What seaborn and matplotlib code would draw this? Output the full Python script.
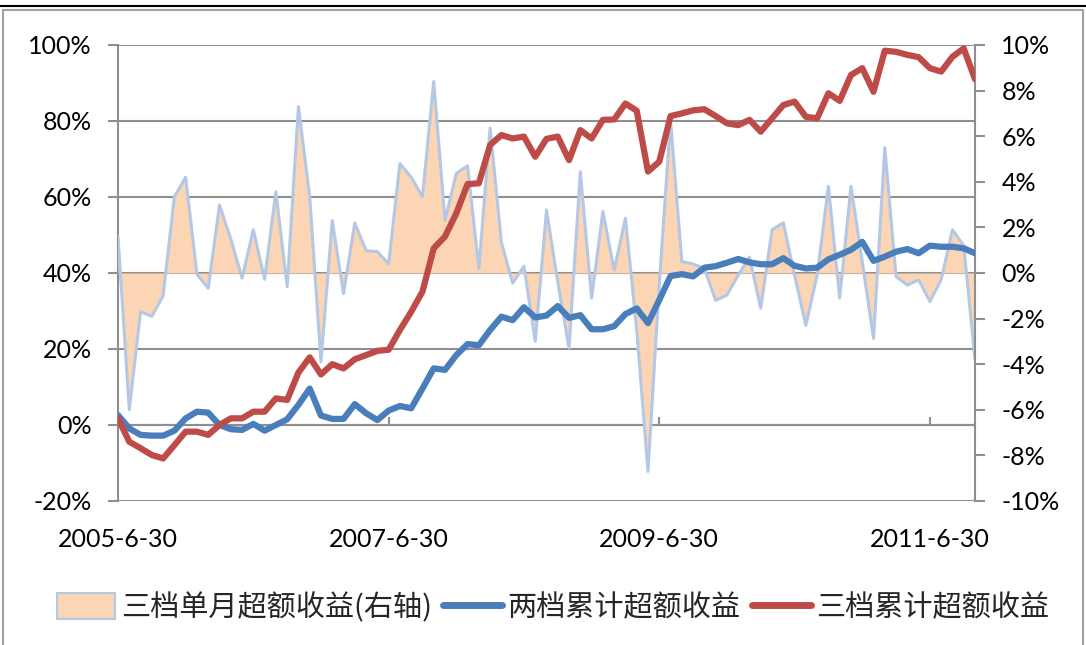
import numpy as np
import matplotlib.pyplot as plt
import seaborn as sns
from matplotlib.lines import Line2D
from matplotlib.patches import Patch, Rectangle
from matplotlib.ticker import FuncFormatter

# monthly points, 2005-6-30 .. 2011-10-31
x_labels = ['2005-6-30', '2007-6-30', '2009-6-30', '2011-6-30']
x_label_pos = [0, 24, 48, 72]

# 三档单月超额收益 (right axis, %)
monthly_excess_3 = [
    1.6, -6.0, -1.7, -1.9, -1.0, 3.35, 4.2, -0.05, -0.67, 2.98,
    1.5, -0.23, 1.9, -0.28, 3.57, -0.6, 7.3, 3.35, -3.9, 2.3,
    -0.9, 2.2, 0.98, 0.94, 0.4, 4.8, 4.2, 3.35, 8.4, 2.3,
    4.37, 4.7, 0.2, 6.35, 1.35, -0.45, 0.3, -3.0, 2.76, -0.4,
    -3.3, 4.45, -1.1, 2.7, 0.13, 2.4, -2.5, -8.7, -0.5, 6.7,
    0.5, 0.4, 0.2, -1.2, -0.97, -0.1, 0.7, -1.55, 1.9, 2.2,
    -0.1, -2.3, -0.1, 3.8, -1.1, 3.8, 0.5, -2.87, 5.5, -0.16,
    -0.53, -0.3, -1.25, -0.3, 1.9, 1.2, -3.8,
]

# 两档累计超额收益 (left axis, %)
cum_excess_2 = [
    2.6, -0.9, -2.6, -2.8, -2.8, -1.5, 1.75, 3.5, 3.25, 0.0,
    -1.1, -1.3, 0.3, -1.5, 0.0, 1.5, 5.3, 9.6, 2.5, 1.6,
    1.6, 5.5, 3.1, 1.3, 3.8, 5.0, 4.4, 9.6, 14.9, 14.5,
    18.4, 21.3, 21.0, 25.0, 28.5, 27.6, 31.0, 28.3, 28.8, 31.3,
    28.2, 28.9, 25.2, 25.2, 26.0, 29.2, 30.7, 26.8, 32.9, 39.2,
    39.7, 39.1, 41.4, 41.8, 42.7, 43.7, 42.8, 42.3, 42.3, 43.9,
    41.9, 41.2, 41.4, 43.6, 44.8, 46.1, 48.2, 43.2, 44.3, 45.6,
    46.3, 45.2, 47.2, 46.9, 46.9, 46.5, 45.2,
]

# 三档累计超额收益 (left axis, %)
cum_excess_3 = [
    1.75, -4.4, -6.1, -7.9, -8.8, -5.3, -1.75, -1.75, -2.6, 0.0,
    1.75, 1.75, 3.5, 3.5, 7.0, 6.6, 13.8, 17.8, 13.3, 16.0,
    14.9, 17.3, 18.4, 19.5, 19.8, 25.0, 29.8, 35.1, 46.5, 49.6,
    55.7, 63.4, 63.6, 73.7, 76.3, 75.4, 75.9, 70.6, 75.3, 75.9,
    69.7, 77.6, 75.4, 80.3, 80.4, 84.6, 82.7, 66.7, 69.3, 81.3,
    82.0, 82.8, 83.1, 81.3, 79.4, 78.9, 80.3, 77.2, 80.7, 84.2,
    85.1, 81.1, 80.7, 87.3, 85.3, 92.1, 93.9, 87.7, 98.5, 98.2,
    97.4, 96.8, 93.9, 93.0, 96.9, 99.1, 91.0,
]

legend_labels = ['三档单月超额收益(右轴)', '两档累计超额收益', '三档累计超额收益']

area_fill = '#FCD5B5'
area_edge = '#B4C8E6'
blue = '#4A7EBB'
red = '#BE4B48'
grey = '#8F8F8F'

sns.set_theme(style='white')
plt.rcParams['font.family'] = ['Lato', 'Noto Sans CJK SC', 'DejaVu Sans']

x = np.arange(len(monthly_excess_3))

W, H = 1086, 645
fig = plt.figure(figsize=(W / 100, H / 100), dpi=100)
ax = fig.add_axes([118 / W, 1 - 501 / H, (975 - 118) / W, (501 - 45) / H])

# base axis: left scale + gridlines
ax.set_ylim(-20, 100)
ax.set_xlim(0, len(x) - 1)
ax.set_yticks(range(-20, 101, 20))
ax.yaxis.set_major_formatter(FuncFormatter(lambda v, p: f'{v:.0f}%'))
ax.yaxis.grid(True, color=grey, lw=1.5)
ax.xaxis.grid(False)
for s in ['top', 'right']:
    ax.spines[s].set_visible(False)
ax.spines['left'].set_color(grey)
ax.spines['left'].set_linewidth(1.5)
ax.spines['bottom'].set_position(('data', 0))
ax.spines['bottom'].set_color(grey)
ax.spines['bottom'].set_linewidth(1.5)
ax.tick_params(axis='y', which='major', direction='out', length=7, width=1.5,
               color=grey, pad=12, labelsize=18, labelcolor='black', left=True)
ax.set_xticks(x_label_pos)
ax.set_xticklabels(x_labels)
ax.tick_params(axis='x', which='major', direction='in', length=6, width=1.5,
               color=grey, pad=74, labelsize=18, labelcolor='black', bottom=True)

# right scale: monthly excess area
ax2 = ax.twinx()
ax2.set_zorder(ax.get_zorder() + 1)
ax2.patch.set_visible(False)
ax2.fill_between(x, 0, monthly_excess_3, color=area_fill, lw=0)
sns.lineplot(x=x, y=monthly_excess_3, ax=ax2, color=area_edge, lw=2.2)
ax2.set_ylim(-10, 10)
ax2.set_yticks(range(-10, 11, 2))
ax2.yaxis.set_major_formatter(FuncFormatter(lambda v, p: f'{v:.0f}%'))
for s in ['top', 'left', 'bottom']:
    ax2.spines[s].set_visible(False)
ax2.spines['right'].set_color(grey)
ax2.spines['right'].set_linewidth(1.5)
ax2.tick_params(axis='y', direction='out', length=7, width=1.5, color=grey,
                pad=12, labelsize=18, labelcolor='black', right=True)
ax2.grid(False)

# cumulative lines on top, same scale as left axis
ax3 = ax.twinx()
ax3.set_zorder(ax2.get_zorder() + 1)
ax3.patch.set_visible(False)
sns.lineplot(x=x, y=cum_excess_2, ax=ax3, color=blue, lw=4.5)
sns.lineplot(x=x, y=cum_excess_3, ax=ax3, color=red, lw=4.5)
ax3.set_ylim(ax.get_ylim())
ax3.axis('off')

handles = [
    Patch(facecolor=area_fill, edgecolor=area_edge, lw=1.5),
    Line2D([0], [0], color=blue, lw=5, solid_capstyle='round'),
    Line2D([0], [0], color=red, lw=5, solid_capstyle='round'),
]
fig.legend(handles, legend_labels, loc='center', bbox_to_anchor=(553 / W, 1 - 608 / H),
           ncol=3, frameon=False, handlelength=2.0, handleheight=1.0,
           handletextpad=0.2, columnspacing=0.4,
           prop={'family': ['Noto Sans CJK SC'], 'size': 21})

# chart frame
fig.add_artist(Line2D([0, 1], [1 - 6 / H] * 2, transform=fig.transFigure,
                      color='black', lw=1.5))
fig.add_artist(Rectangle((3 / W, -0.01), 1080 / W, 1.01 - 10 / H,
                         transform=fig.transFigure, fill=False,
                         edgecolor='#A0A0A0', lw=1.5))

fig.savefig('out.png', dpi=100)
